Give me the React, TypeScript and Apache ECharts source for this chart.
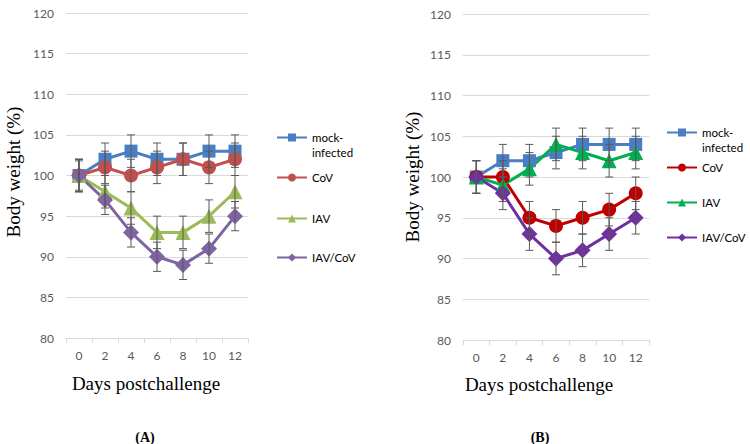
import React, { useEffect, useRef } from "react";
import * as echarts from "echarts";

const days = ["0", "2", "4", "6", "8", "10", "12"];
const groupLabels = ["mock-infected", "CoV", "IAV", "IAV/CoV"];
const yTicks = { min: 80, max: 120, interval: 5 };

// Panel A values
const aMock = [100, 102, 103, 102, 102, 103, 103];
const aCoV = [100, 101, 100, 101, 102, 101, 102];
const aIAV = [100, 98, 96, 93, 93, 95, 98];
const aIAVCoV = [100, 97, 93, 90, 89, 91, 95];
const aMockErr = [2, 2, 2, 2, 2, 2, 2];
const aCoVErr = [2, 2, 2, 2, 2, 2, 2];
const aIAVErr = [2, 2, 2, 2, 2, 2, 2];
const aIAVCoVErr = [1.8, 1.8, 1.8, 1.8, 1.8, 1.8, 1.8];

// Panel B values
const bMock = [100, 102, 102, 103, 104, 104, 104];
const bCoV = [100, 100, 95, 94, 95, 96, 98];
const bIAV = [100, 99, 101, 104, 103, 102, 103];
const bIAVCoV = [100, 98, 93, 90, 91, 93, 95];
const bMockErr = [2, 2, 2, 2, 2, 2, 2];
const bCoVErr = [2, 2, 2, 2, 2, 2, 2];
const bIAVErr = [2, 2, 2, 2, 2, 2, 2];
const bIAVCoVErr = [2, 2, 2, 2, 2, 2, 2];

const colorsA = ["#4A7EC4", "#C0504D", "#9BBB59", "#8064A2"];
const colorsB = ["#4A7EC4", "#C00000", "#00B050", "#7030A0"];
const symbols = ["rect", "circle", "triangle", "diamond"];
const symbolSizes = [13, 14, 15, 16];

const FONT = "Lato";
const SERIF = "Liberation Serif";

export default function App() {
  const ref = useRef<HTMLDivElement>(null);
  useEffect(() => {
    if (!ref.current) return;
    const chart = echarts.init(ref.current, undefined, { renderer: "svg" });

    const panels = [
      { vals: [aMock, aCoV, aIAV, aIAVCoV], errs: [aMockErr, aCoVErr, aIAVErr, aIAVCoVErr], colors: colorsA, prefix: "A" },
      { vals: [bMock, bCoV, bIAV, bIAVCoV], errs: [bMockErr, bCoVErr, bIAVErr, bIAVCoVErr], colors: colorsB, prefix: "B" },
    ];

    const series: any[] = [];
    const legends: any[] = [];
    const legendTopsA = [115, 170, 211, 250];
    const legendTopsB = [110, 160, 195, 230];
    const legendLeft = [276, 666];

    panels.forEach((p, pi) => {
      p.vals.forEach((vals, si) => {
        const name = p.prefix + ":" + groupLabels[si];
        series.push({
          type: "line",
          name,
          xAxisIndex: pi,
          yAxisIndex: pi,
          data: vals,
          symbol: symbols[si],
          symbolSize: symbolSizes[si],
          lineStyle: { color: p.colors[si], width: 3 },
          itemStyle: { color: p.colors[si] },
          z: 2,
        });
        series.push({
          type: "custom",
          name: name + " err",
          xAxisIndex: pi,
          yAxisIndex: pi,
          encode: { x: 0, y: 1 },
          data: vals.map((v, i) => [i, v, p.errs[si][i]]),
          z: 3,
          renderItem: (params: any, api: any) => {
            const x = api.value(0);
            const v = api.value(1);
            const e = api.value(2);
            const top = api.coord([x, v + e]);
            const bot = api.coord([x, v - e]);
            const w = 4;
            const st = { stroke: "#595959", lineWidth: 1 };
            return {
              type: "group",
              children: [
                { type: "line", shape: { x1: top[0], y1: top[1], x2: bot[0], y2: bot[1] }, style: st },
                { type: "line", shape: { x1: top[0] - w, y1: top[1], x2: top[0] + w, y2: top[1] }, style: st },
                { type: "line", shape: { x1: bot[0] - w, y1: bot[1], x2: bot[0] + w, y2: bot[1] }, style: st },
              ],
            };
          },
        });
        const tops = pi === 0 ? legendTopsA : legendTopsB;
        legends.push({
          data: [name],
          left: legendLeft[pi],
          top: tops[si],
          orient: "vertical",
          padding: 0,
          itemWidth: 30,
          itemHeight: 10,
          itemGap: 2,
          selectedMode: false,
          formatter: (n: string) => (n.endsWith("mock-infected") ? "\u00a0\nmock-\ninfected" : n.slice(2)),
          textStyle: {
            fontFamily: FONT,
            fontSize: 11.5,
            color: "#000",
            lineHeight: 15,
          },
        });
      });
    });

    const grids = [
      { left: 66, top: 13, width: 182, height: 325 },
      { left: 463, top: 14, width: 186, height: 326 },
    ];

    const xAxes = grids.map((_, i) => ({
      type: "category",
      gridIndex: i,
      data: days,
      boundaryGap: true,
      axisLine: { lineStyle: { color: "#D9D9D9", width: 1 } },
      axisTick: { show: true, length: 5, lineStyle: { color: "#D9D9D9" } },
      axisLabel: { color: "#595959", fontFamily: FONT, fontSize: 12, margin: 11 },
    }));

    const yAxes = grids.map((_, i) => ({
      type: "value",
      gridIndex: i,
      min: yTicks.min,
      max: yTicks.max,
      interval: yTicks.interval,
      axisLine: { show: false },
      axisTick: { show: false },
      splitLine: { lineStyle: { color: "#D9D9D9", width: 1 } },
      axisLabel: { color: "#595959", fontFamily: FONT, fontSize: 12, margin: 12 },
    }));

    const serifText = (text: string, x: number, y: number, size: number, rot = 0, bold = false) => ({
      type: "text",
      x,
      y,
      rotation: rot,
      style: {
        text,
        fill: "#000",
        font: `${bold ? "bold " : ""}${size}px "${SERIF}"`,
        align: "center",
        verticalAlign: "middle",
      },
    });

    chart.setOption({
      animation: false,
      grid: grids,
      xAxis: xAxes,
      yAxis: yAxes,
      legend: legends,
      series,
      graphic: [
        serifText("Body weight (%)", 13, 172, 19, Math.PI / 2),
        serifText("Body weight (%)", 412, 177, 19, Math.PI / 2),
        serifText("Days postchallenge", 146, 383, 19),
        serifText("Days postchallenge", 539, 384, 19),
        serifText("(A)", 145, 437, 14, 0, true),
        serifText("(B)", 540, 437, 14, 0, true),
      ],
    });
    return () => chart.dispose();
  }, []);
  return <div ref={ref} style={{ width: 750, height: 444, position: "absolute", left: 0, top: 0 }} />;
}
